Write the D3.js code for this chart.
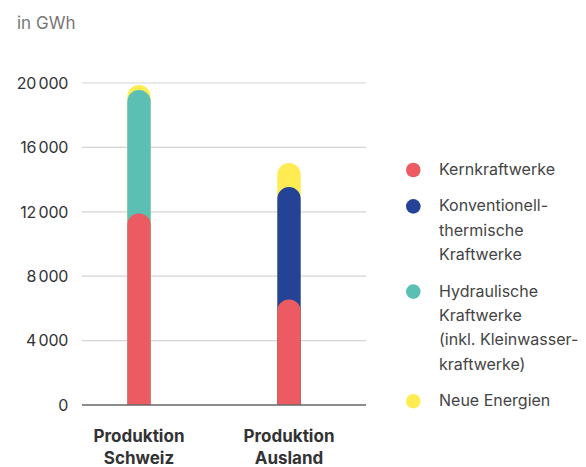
<!DOCTYPE html>
<html>
<head>
<meta charset="utf-8">
<script src="https://cdn.jsdelivr.net/npm/d3@7"></script>
<style>
  body { margin: 0; background: #fff; }
  svg { font-family: Inter, "Noto Sans", sans-serif; }
</style>
</head>
<body>
<svg id="chart" width="586" height="467"></svg>
<script>
// Chart data
const categories = ["Produktion Schweiz", "Produktion Ausland"];
const seriesNames = ["Kernkraftwerke", "Konventionell-thermische Kraftwerke", "Hydraulische Kraftwerke (inkl. Kleinwasserkraftwerke)", "Neue Energien"];
const kernkraft = [11900, 6560];
const konventionell = [0, 6980];
const hydraulisch = [7660, 0];
const neueEnergien = [310, 1490];
const yTicks = [0, 4000, 8000, 12000, 16000, 20000];
const legendLines = [
  ["Kernkraftwerke"],
  ["Konventionell-", "thermische", "Kraftwerke"],
  ["Hydraulische", "Kraftwerke", "(inkl. Kleinwasser-", "kraftwerke)"],
  ["Neue Energien"]
];
const colors = ["#ec5b61", "#244397", "#5bbfb3", "#feec52"];

const svg = d3.select("#chart");

// Build rows for d3.stack
const table = categories.map((c, i) => ({
  category: c,
  s0: kernkraft[i],
  s1: konventionell[i],
  s2: hydraulisch[i],
  s3: neueEnergien[i]
}));
const keys = ["s0", "s1", "s2", "s3"];
const stacked = d3.stack().keys(keys)(table);

const x = d3.scaleBand()
  .domain(categories)
  .range([64, 364])
  .paddingInner(0.844)
  .paddingOuter(0.422);

const y = d3.scaleLinear()
  .domain([0, 20000])
  .range([405, 83]);

// Gridlines
svg.append("g")
  .selectAll("line")
  .data(yTicks.filter(t => t > 0))
  .join("line")
  .attr("x1", 82)
  .attr("x2", 366)
  .attr("y1", d => y(d))
  .attr("y2", d => y(d))
  .attr("stroke", "#d4d4d4")
  .attr("stroke-width", 1.2);

// Y tick labels (space as thousands separator)
const fmt = d => d3.format(",")(d).replace(/,/g, "\u2009");
svg.append("g")
  .selectAll("text")
  .data(yTicks)
  .join("text")
  .attr("x", 68)
  .attr("y", d => y(d))
  .attr("dy", "0.36em")
  .attr("text-anchor", "end")
  .attr("font-size", 16)
  .attr("fill", "#333")
  .attr("letter-spacing", "-0.3")
  .text(fmt);

// Unit label
svg.append("text")
  .attr("x", 17)
  .attr("y", 29)
  .attr("font-size", 17)
  .attr("fill", "#777")
  .text("in GWh");

// Rounded-top bar from the baseline up to the cumulative value
function barPath(cat, top) {
  const x0 = x(cat);
  const x1 = x0 + x.bandwidth();
  const r = x.bandwidth() / 2;
  const yb = y(0);
  const yt = y(top);
  return `M${x0},${yb}L${x0},${yt + r}A${r},${r} 0 0 1 ${x1},${yt + r}L${x1},${yb}Z`;
}

// Draw top layers first so lower segments overlay them with their caps
const layers = stacked.slice().reverse();
svg.append("g")
  .selectAll("g")
  .data(layers)
  .join("g")
  .attr("fill", d => colors[keys.indexOf(d.key)])
  .selectAll("path")
  .data(d => d.filter(p => p[1] - p[0] > 0))
  .join("path")
  .attr("d", d => barPath(d.data.category, d[1]));

// Zero axis line
svg.append("line")
  .attr("x1", 82)
  .attr("x2", 366)
  .attr("y1", y(0))
  .attr("y2", y(0))
  .attr("stroke", "#666")
  .attr("stroke-width", 1.5);

// Category labels, two lines each
svg.append("g")
  .selectAll("text")
  .data(categories)
  .join("text")
  .attr("x", d => x(d) + x.bandwidth() / 2)
  .attr("y", 442)
  .attr("text-anchor", "middle")
  .attr("font-size", 17)
  .attr("font-weight", 700)
  .attr("fill", "#333")
  .selectAll("tspan")
  .data(d => d.split(" "))
  .join("tspan")
  .attr("x", function() { return this.parentNode.getAttribute("x"); })
  .attr("dy", (d, i) => i === 0 ? 0 : 22)
  .text(d => d);

// Legend
const lineHeight = 24.4;
const itemGap = 12;
let baseline = 175;
const legend = svg.append("g");
legendLines.forEach((lines, i) => {
  const item = legend.append("g");
  item.append("circle")
    .attr("cx", 413.3)
    .attr("cy", baseline - 5)
    .attr("r", 7.3)
    .attr("fill", colors[i]);
  item.append("text")
    .attr("font-size", 16)
    .attr("fill", "#444")
    .selectAll("tspan")
    .data(lines)
    .join("tspan")
    .attr("x", 439)
    .attr("y", (d, j) => baseline + j * lineHeight)
    .text(d => d);
  baseline += (lines.length - 1) * lineHeight + lineHeight + itemGap;
});
</script>
</body>
</html>
